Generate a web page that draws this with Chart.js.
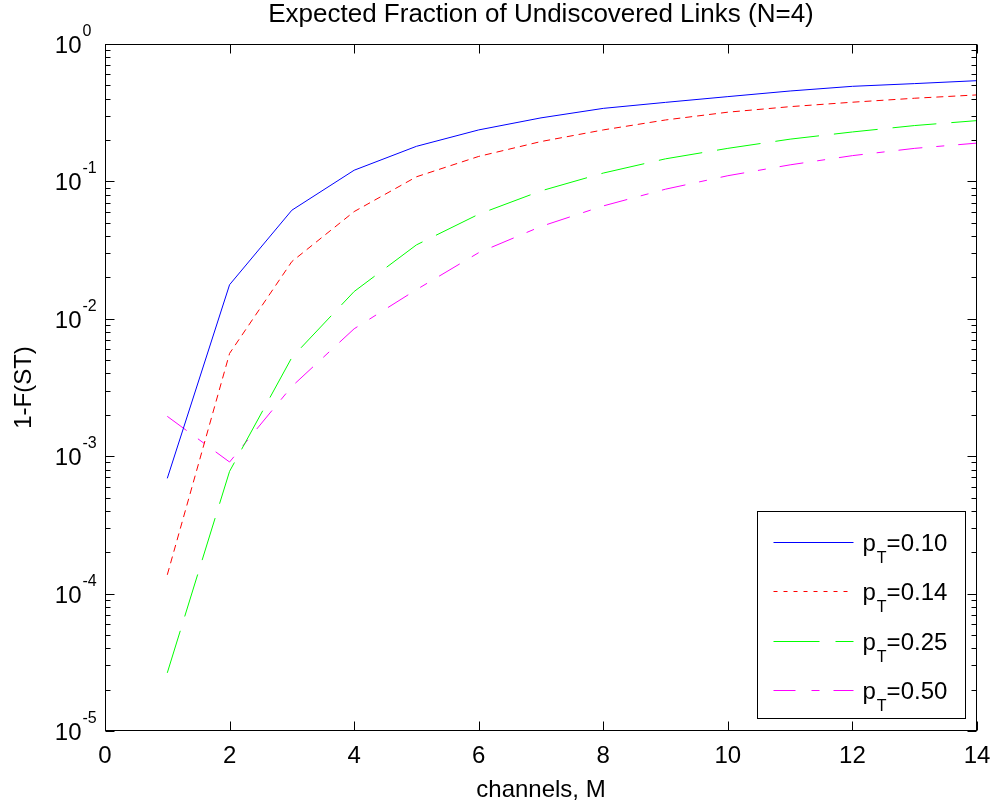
<!DOCTYPE html>
<html>
<head>
<meta charset="utf-8">
<title>Expected Fraction of Undiscovered Links (N=4)</title>
<script src="https://cdn.jsdelivr.net/npm/chart.js@4.4.1/dist/chart.umd.min.js"></script>
<style>
  html, body { margin: 0; padding: 0; background: #fff; }
  canvas { display: block; }
</style>
</head>
<body>
<canvas id="undiscoveredChart" width="995" height="805"></canvas>
<script>
// number of channels M
const channels = [1, 2, 3, 4, 5, 6, 7, 8, 9, 10, 11, 12, 13, 14];

// 1-F(ST)
const pT010 = [6.9e-4, 0.0177, 0.0617, 0.1206, 0.180, 0.237, 0.290, 0.340, 0.376, 0.414, 0.455, 0.492, 0.515, 0.541];
const pT014 = [1.37e-4, 5.6e-3, 0.0261, 0.0603, 0.108, 0.152, 0.195, 0.237, 0.280, 0.319, 0.350, 0.377, 0.403, 0.426];
const pT025 = [2.65e-5, 7.76e-4, 5.23e-3, 0.0158, 0.0345, 0.0577, 0.0853, 0.115, 0.146, 0.174, 0.203, 0.229, 0.255, 0.277];
const pT050 = [1.95e-3, 9.07e-4, 3.22e-3, 8.46e-3, 0.0163, 0.0303, 0.047, 0.0663, 0.0878, 0.110, 0.132, 0.154, 0.174, 0.190];

const seriesNames = ['0.10', '0.14', '0.25', '0.50'];
const xTicks = [0, 2, 4, 6, 8, 10, 12, 14];
const yDecades = [0, -1, -2, -3, -4, -5]; // exponents of 10

const FONT = '"Liberation Sans", Arial, Helvetica, sans-serif';

function toPoints(ys) {
    return channels.map((m, i) => ({ x: m, y: ys[i] }));
}

const styles = [
    { color: '#0000ff', dash: [], legendDash: [] },
    { color: '#ff0000', dash: [7, 5], legendDash: [4, 6] },
    { color: '#00ff00', dash: [44, 15], legendDash: [46, 16] },
    { color: '#ff00ff', dash: [24, 14, 8, 14], legendDash: [22, 16, 8, 14] }
];

const allSeries = [pT010, pT014, pT025, pT050];

// MATLAB-like axes box, ticks, labels and legend
const matlabAxes = {
    id: 'matlabAxes',
    afterDatasetsDraw(chart) {
        const c = chart.ctx;
        const area = chart.chartArea;
        const xs = chart.scales.x;
        const ys = chart.scales.y;
        const L = Math.round(area.left) + 0.5;
        const R = Math.round(area.right) - 0.5;
        const T = Math.round(area.top) + 0.5;
        const B = Math.round(area.bottom) - 0.5;

        c.save();
        c.strokeStyle = '#000';
        c.lineWidth = 1;
        c.setLineDash([]);
        c.strokeRect(L, T, R - L, B - T);

        // x ticks (inward, top and bottom)
        c.beginPath();
        xTicks.forEach(v => {
            const px = Math.round(xs.getPixelForValue(v)) + 0.5;
            c.moveTo(px, B); c.lineTo(px, B - 9);
            c.moveTo(px, T); c.lineTo(px, T + 9);
        });
        // y ticks, major and minor, left and right
        yDecades.forEach(e => {
            const py = Math.round(ys.getPixelForValue(Math.pow(10, e))) + 0.5;
            c.moveTo(L, py); c.lineTo(L + 9, py);
            c.moveTo(R, py); c.lineTo(R - 9, py);
            if (e > yDecades[yDecades.length - 1]) {
                for (let k = 2; k <= 9; k++) {
                    const pm = Math.round(ys.getPixelForValue(k * Math.pow(10, e - 1))) + 0.5;
                    c.moveTo(L, pm); c.lineTo(L + 5, pm);
                    c.moveTo(R, pm); c.lineTo(R - 5, pm);
                }
            }
        });
        c.stroke();

        c.fillStyle = '#000';
        // x tick labels
        c.font = '24px ' + FONT;
        c.textAlign = 'center';
        c.textBaseline = 'alphabetic';
        xTicks.forEach(v => {
            c.fillText(String(v), xs.getPixelForValue(v), B + 32);
        });

        // y tick labels 10^e
        yDecades.forEach(e => {
            const py = ys.getPixelForValue(Math.pow(10, e));
            c.font = '24px ' + FONT;
            c.textAlign = 'right';
            c.fillText('10', L - 24, py + 9);
            c.font = '16px ' + FONT;
            c.textAlign = 'left';
            c.fillText(String(e), L - 23, py - 8);
        });

        // title and axis titles
        const midX = (area.left + area.right) / 2;
        c.textAlign = 'center';
        c.font = '26px ' + FONT;
        c.fillText('Expected Fraction of Undiscovered Links (N=4)', midX, 22);
        c.font = '24px ' + FONT;
        c.fillText('channels, M', midX, B + 66);
        c.save();
        c.translate(31, (area.top + area.bottom) / 2);
        c.rotate(-Math.PI / 2);
        c.fillText('1-F(ST)', 0, 0);
        c.restore();

        // legend
        const lx = Math.round(area.right) - 220 + 0.5;
        const ly = Math.round(area.bottom) - 220 + 0.5;
        const lw = 208, lh = 207;
        c.fillStyle = '#fff';
        c.fillRect(lx, ly, lw, lh);
        c.strokeStyle = '#000';
        c.strokeRect(lx, ly, lw, lh);
        seriesNames.forEach((name, i) => {
            const rowY = Math.round(ly + 30 + i * 49.5) + 0.5;
            c.strokeStyle = styles[i].color;
            c.lineWidth = 1;
            c.setLineDash(styles[i].legendDash);
            c.beginPath();
            c.moveTo(lx + 16, rowY);
            c.lineTo(lx + 96, rowY);
            c.stroke();
            c.setLineDash([]);
            c.fillStyle = '#000';
            c.textAlign = 'left';
            let tx = lx + 105;
            c.font = '24px ' + FONT;
            c.fillText('p', tx, rowY + 8);
            tx += c.measureText('p').width + 1;
            c.font = '16px ' + FONT;
            c.fillText('T', tx, rowY + 20);
            tx += c.measureText('T').width;
            c.font = '24px ' + FONT;
            c.fillText('=' + name, tx, rowY + 8);
        });
        c.restore();
    }
};

const ctx = document.getElementById('undiscoveredChart').getContext('2d');

const undiscoveredChart = new Chart(ctx, {
    type: 'line',
    data: {
        datasets: allSeries.map((ys, i) => ({
            label: 'pT=' + seriesNames[i],
            data: toPoints(ys),
            borderColor: styles[i].color,
            borderDash: styles[i].dash,
            borderWidth: 1,
            pointRadius: 0,
            tension: 0,
            fill: false
        }))
    },
    options: {
        responsive: false,
        animation: false,
        devicePixelRatio: 1,
        layout: {
            padding: { left: 105, top: 44, right: 18, bottom: 74 }
        },
        scales: {
            x: { type: 'linear', min: 0, max: 14, display: false },
            y: { type: 'logarithmic', min: 1e-5, max: 1, display: false }
        },
        plugins: {
            legend: { display: false },
            title: { display: false },
            tooltip: { enabled: false }
        }
    },
    plugins: [matlabAxes]
});
</script>
</body>
</html>
